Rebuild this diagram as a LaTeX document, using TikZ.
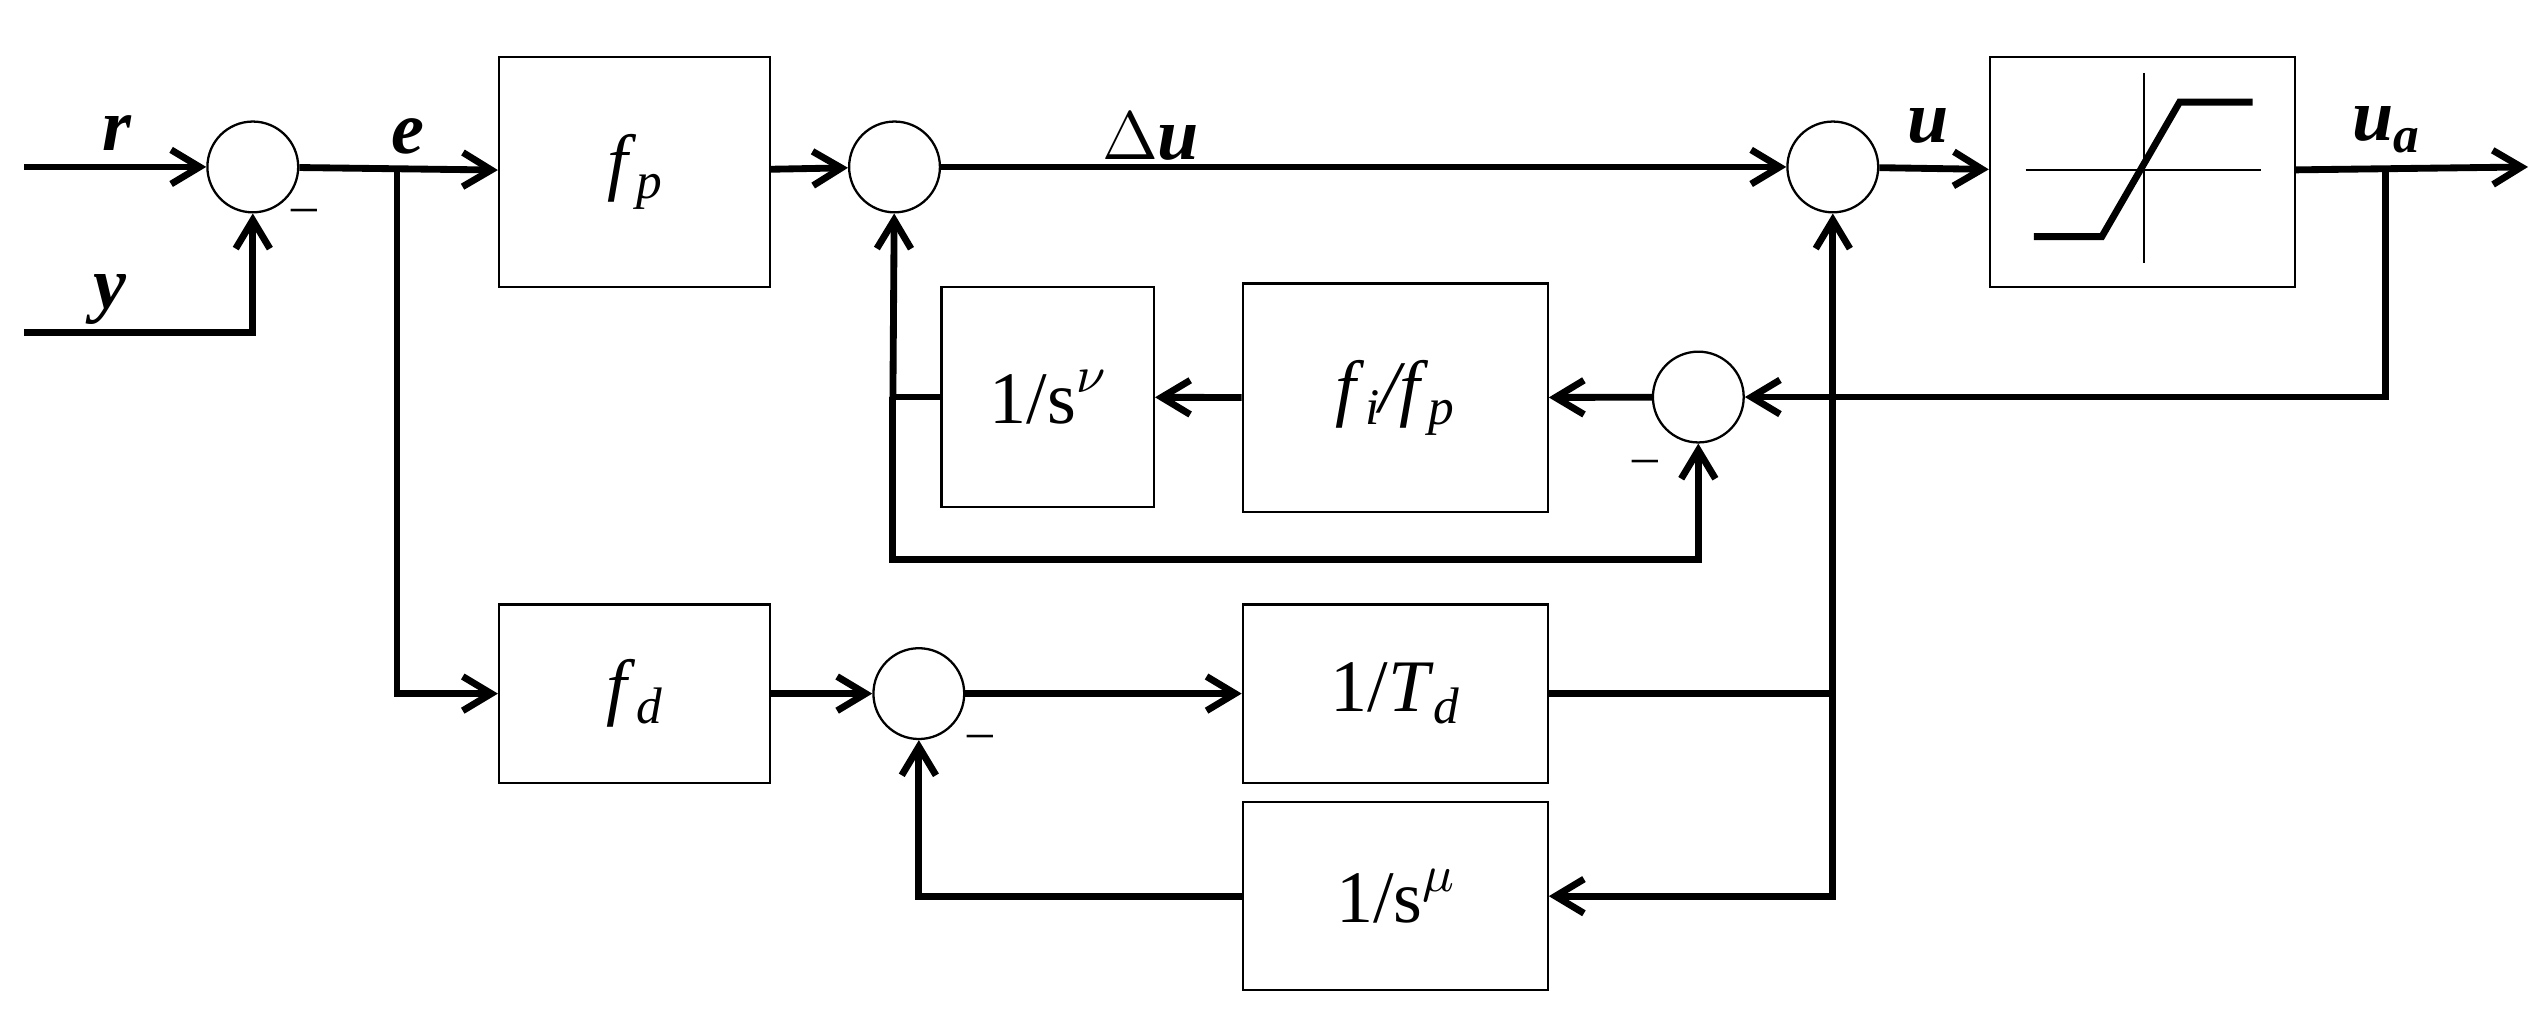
\documentclass[tikz,border=0pt]{standalone}
\usepackage{fontspec}
\setmainfont{Liberation Serif}
\usetikzlibrary{arrows.meta}
\newcommand{\sbs}[1]{\raisebox{-0.35ex}{\fontsize{9}{10}\selectfont #1}}
\newcommand{\sps}[1]{\raisebox{0.9ex}{\fontsize{9}{10}\selectfont\itshape #1}}
\begin{document}
\begin{tikzpicture}[x=0.01cm,y=-0.01cm,
  sig/.style={line width=1.2pt},
  arr/.style={sig,-{Straight Barb[length=5pt,width=6pt,line width=1.2pt]}},
  sum/.style={draw,circle,line width=0.4pt,minimum size=0.56cm,inner sep=0pt},
  blk/.style={draw,line width=0.4pt,inner sep=0pt,font=\fontsize{13}{15}\selectfont},
  lab/.style={font=\fontsize{13}{15}\selectfont\itshape\bfseries},
  minus/.style={font=\fontsize{9}{11}\selectfont}]
\useasboundingbox (0,0) rectangle (1568,626);
% sums
\node[sum] (s1) at (156,103) {};
\node[sum] (s2) at (552,103) {};
\node[sum] (s3) at (1131,103) {};
\node[sum] (s4) at (1048,245) {};
\node[sum] (s5) at (567,428) {};
% blocks
\node[blk,minimum width=1.67cm,minimum height=1.42cm] (fp) at (391.5,106) {\textit{f}\sbs{\textit{p}}};
\node[blk,minimum width=1.88cm,minimum height=1.42cm] (sat) at (1322,106) {};
\node[blk,minimum width=1.88cm,minimum height=1.41cm] (fifp) at (861,245.5) {\textit{f}\sbs{\textit{i}}\textit{/f}\sbs{\textit{p}}};
\node[blk,minimum width=1.31cm,minimum height=1.36cm] (snu) at (646.5,245) {1/s\sps{$\nu$}};
\node[blk,minimum width=1.67cm,minimum height=1.10cm] (fd) at (391.5,428) {\textit{f}\sbs{\textit{d}}};
\node[blk,minimum width=1.88cm,minimum height=1.10cm] (td) at (861,428) {1/\textit{T}\sbs{\textit{d}}};
\node[blk,minimum width=1.88cm,minimum height=1.16cm] (smu) at (861,553) {1/s\sps{$\mu$}};
% saturation graph
\draw[line width=0.4pt] (1250,105) -- (1395,105);
\draw[line width=0.4pt] (1323,45) -- (1323,162);
\draw[sig] (1255,146) -- (1297,146) -- (1345,63) -- (1390,63);
% coordinates
\coordinate (rin) at (15,103);
\coordinate (yin) at (15,205);
\coordinate (ec) at (245,103);
\coordinate (out) at (1560,103);
\coordinate (uac) at (1472,103);
\coordinate (lc) at (551,245);
\coordinate (vc) at (1131,428);
% connectors
\draw[arr] (rin) -- (s1);
\draw[arr] (yin) -| (s1);
\draw[arr] (s1) -- (fp);
\draw[arr] (ec) |- (fd);
\draw[arr] (fp) -- (s2);
\draw[arr] (s2) -- (s3);
\draw[arr] (s3) -- (sat);
\draw[arr] (sat) -- (out);
\draw[arr] (uac) |- (s4);
\draw[arr] (s4) -- (fifp);
\draw[arr] (fifp) -- (snu);
\draw[sig] (snu) -- (lc);
\draw[arr] (lc) -- (s2);
\draw[arr] (lc) -- (551,345) -| (s4);
\draw[arr] (fd) -- (s5);
\draw[arr] (s5) -- (td);
\draw[sig] (td) -- (vc);
\draw[arr] (vc) -- (s3);
\draw[arr] (vc) |- (smu);
\draw[arr] (smu) -| (s5);
% labels
\node[lab] at (72,82) {r};
\node[lab] at (68,185) {y};
\node[lab] at (252,84) {e};
\node[lab] at (710,84) {$\Delta$u};
\node[lab] at (1190,78) {u};
\node[lab] at (1472,80) {u\sbs{a}};
\node[minus] at (188,133) {--};
\node[minus] at (1015,288) {--};
\node[minus] at (605,458) {--};
\end{tikzpicture}
\end{document}
